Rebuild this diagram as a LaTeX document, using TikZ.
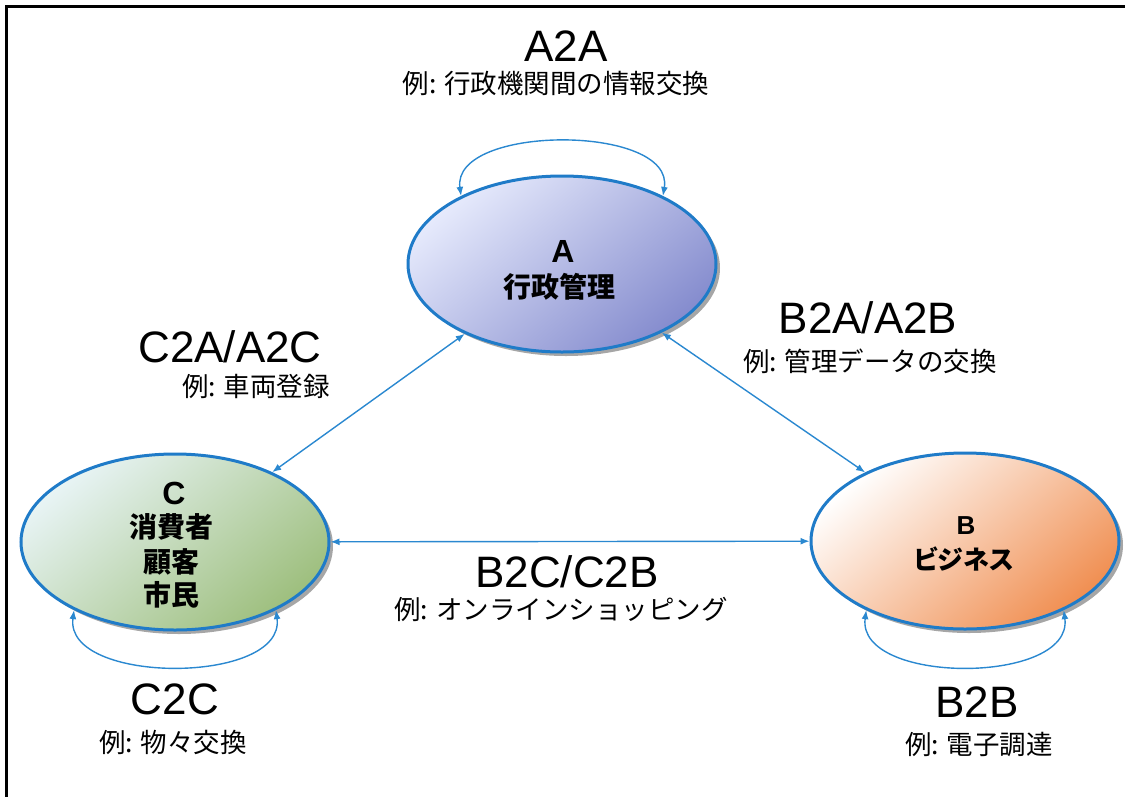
\documentclass[tikz,border=0pt]{standalone}
\usepackage{fontspec}
\setmainfont{Liberation Sans}
\newfontfamily\jp{Noto Sans CJK JP}
\newfontfamily\jpp{Noto Sans CJK JP}[RawFeature=+palt]
\usetikzlibrary{shapes.geometric,shadows,arrows.meta}
\definecolor{edgeblue}{HTML}{1F7BC8}
\definecolor{connblue}{HTML}{2A88D0}
\definecolor{aLight}{HTML}{E6EAFC}
\definecolor{aDark}{HTML}{858CCE}
\definecolor{cLight}{HTML}{E8F4F5}
\definecolor{cDark}{HTML}{9EBF7E}
\definecolor{bLight}{HTML}{FFFFFF}
\definecolor{bDark}{HTML}{F08F52}
\tikzset{
  ell/.style={ellipse, draw=edgeblue, line width=3pt, inner sep=0pt,
    minimum width=308pt, minimum height=176pt,
    drop shadow={shadow xshift=4pt, shadow yshift=-4pt, fill=black, opacity=0.35}},
  conn/.style={draw=connblue, line width=1.4pt,
    {Latex[length=9pt,width=7pt]}-{Latex[length=9pt,width=7pt]}},
  big/.style={font=\fontsize{44}{44}\selectfont, inner sep=0pt, text height=31pt, text depth=0pt},
  sub/.style={font=\jp\fontsize{26.5}{26.5}\selectfont, inner sep=0pt, text height=20pt, text depth=3pt},
  letter/.style={inner sep=0pt, font=\bfseries},
  jtext/.style={inner sep=0pt, font=\jp\bfseries\fontsize{28}{28}\selectfont},
}
\begin{document}
\begin{tikzpicture}[x=1pt,y=-1pt]
\useasboundingbox (0,0) rectangle (1125,796);
% frame (left and top edges visible)
\coordinate (fTL) at (6,6);
\coordinate (fTR) at (1125,6);
\coordinate (fBL) at (6,796);
\draw[line width=3pt, line cap=rect] (fBL) -- (fTL) -- (fTR);

% ellipses
\node[ell, top color=aLight, bottom color=aDark, shading angle=40] (A) at (562,264) {};
\node[ell, top color=cLight, bottom color=cDark, shading angle=40] (C) at (175,542) {};
\node[ell, top color=bLight, bottom color=bDark, shading angle=40] (B) at (965,541) {};

% node texts
\node[letter, font=\bfseries\fontsize{32}{32}\selectfont] (Al) at (563,251) {A};
\node[jtext] (Aj) at (559,287) {行政管理};
\node[letter, font=\bfseries\fontsize{32}{32}\selectfont] (Cl) at (174,493) {C};
\node[jtext] (Cj1) at (171,527) {消費者};
\node[jtext] (Cj2) at (171,562) {顧客};
\node[jtext] (Cj3) at (171,595) {市民};
\node[letter, font=\bfseries\fontsize{26}{26}\selectfont] (Bl) at (966,526) {B};
\node[jtext, font=\jpp\bfseries\fontsize{26}{26}\selectfont] (Bj) at (964,559) {ビジネス};

% connectors
\draw[conn] (A) -- (C);
\draw[conn] (A) -- (B);
\draw[conn] (C) -- (B);

% self loops
\draw[conn] (A.146) .. controls +(-10,-72) and +(12,-72) .. (A.34);
\draw[conn] (C.214) .. controls +(-10,75) and +(10,75) .. (C.326);
\draw[conn] (B.215) .. controls +(-10,75) and +(10,75) .. (B.325);

% labels
\node[big] (lAA) at (566,46) {A2A};
\node[sub] (sAA) at (556,85) {例: 行政機関間の情報交換};
\node[big] (lCA) at (230,347) {C2A/A2C};
\node[sub] (sCA) at (256,388) {例: 車両登録};
\node[big] (lBA) at (868,318) {B2A/A2B};
\node[sub] (sBA) at (870,363) {例: 管理データの交換};
\node[big] (lBC) at (567,572) {B2C/C2B};
\node[sub] (sBC) at (561,611) {例: オンラインショッピング};
\node[big] (lCC) at (175,699) {C2C};
\node[sub] (sCC) at (173,744) {例: 物々交換};
\node[big] (lBB) at (977,702) {B2B};
\node[sub] (sBB) at (979,746) {例: 電子調達};
\end{tikzpicture}
\end{document}
